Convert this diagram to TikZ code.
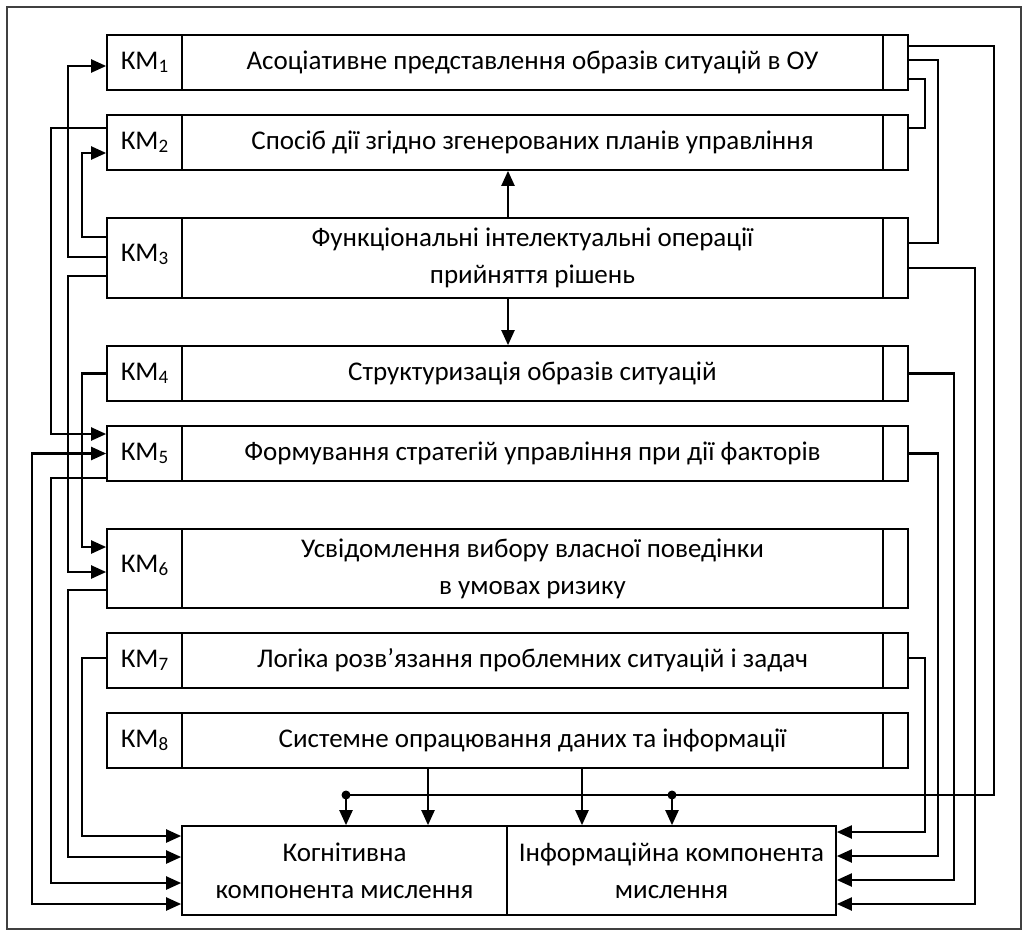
\documentclass[tikz,border=0pt]{standalone}
\usepackage{fontspec}
\setmainfont{Carlito}
\usetikzlibrary{arrows.meta, positioning}
\newcommand{\km}[1]{КМ{\fontsize{19}{19}\selectfont\raisebox{-3.5pt}{#1}}}

\begin{document}
\begin{tikzpicture}[x=1pt, y=-1pt, line width=2.2pt, >={Triangle[length=15pt, width=13pt]},
    every node/.style={font=\fontsize{27}{37}\selectfont},
    cell/.style={draw, line width=1.7pt, inner sep=0pt, align=center, minimum height=55pt},
    kmcell/.style={cell, minimum width=75pt},
    textcell/.style={cell, minimum width=701pt},
    endcell/.style={cell, minimum width=25pt},
    compbox/.style={cell, minimum height=89pt}]
        \useasboundingbox (0,0) rectangle (1027,930);
        \draw[line width=1.2pt, black!75] (7,7) rectangle (1021,929);

        % Nodes
        \node[kmcell] (k1) at (144.5, 62.5) {\km{1}};
        \node[textcell] (m1) at (532.5, 62.5) {Асоціативне представлення образів ситуацій в ОУ};
        \node[endcell] (r1) at (895.5, 62.5) {};

        \node[kmcell] (k2) at (144.5, 142.5) {\km{2}};
        \node[textcell] (m2) at (532.5, 142.5) {Спосіб дії згідно згенерованих планів управління};
        \node[endcell] (r2) at (895.5, 142.5) {};

        \node[kmcell, minimum height=80pt] (k3) at (144.5, 258) {\raisebox{11pt}{\km{3}}};
        \node[textcell, minimum height=80pt] (m3) at (532.5, 258) {Функціональні інтелектуальні операції\\прийняття рішень};
        \node[endcell, minimum height=80pt] (r3) at (895.5, 258) {};

        \node[kmcell] (k4) at (144.5, 373.5) {\km{4}};
        \node[textcell] (m4) at (532.5, 373.5) {Структуризація образів ситуацій};
        \node[endcell] (r4) at (895.5, 373.5) {};

        \node[kmcell] (k5) at (144.5, 453.5) {\km{5}};
        \node[textcell] (m5) at (532.5, 453.5) {Формування стратегій управління при дії факторів};
        \node[endcell] (r5) at (895.5, 453.5) {};

        \node[kmcell, minimum height=79pt] (k6) at (144.5, 568.5) {\raisebox{10pt}{\km{6}}};
        \node[textcell, minimum height=79pt] (m6) at (532.5, 568.5) {Усвідомлення вибору власної поведінки\\в умовах ризику};
        \node[endcell, minimum height=79pt] (r6) at (895.5, 568.5) {};

        \node[kmcell] (k7) at (144.5, 660.5) {\km{7}};
        \node[textcell] (m7) at (532.5, 660.5) {Логіка розв’язання проблемних ситуацій і задач};
        \node[endcell] (r7) at (895.5, 660.5) {};

        \node[kmcell] (k8) at (144.5, 740.5) {\km{8}};
        \node[textcell] (m8) at (532.5, 740.5) {Системне опрацювання даних та інформації};
        \node[endcell] (r8) at (895.5, 740.5) {};

        \node[compbox, minimum width=325pt] (cog) at (344.5, 870.5) {Когнітивна\\компонента мислення};
        \node[compbox, minimum width=329pt] (info) at (671.5, 870.5) {Інформаційна компонента\\мислення};

        \coordinate (bus1) at (346, 795);
        \coordinate (bus2) at (672, 795);

        % Left connectors
        \draw[->] ([yshift=1pt]k3.west) -- ++(-38,0) |- ([yshift=-3.5pt]k1.west);
        \draw[->] ([yshift=21pt]k3.west) -- ++(-24,0) |- ([yshift=-10.5pt]k2.west);
        \draw[->] ([yshift=14.5pt]k2.west) -- ++(-55,0) |- ([yshift=19.5pt]k5.west);
        \draw[->] ([yshift=-18pt]k3.west) -- ++(-38,0) |- ([yshift=-3.5pt]k6.west);
        \draw[->] (k4.west) -- ++(-24,0) |- ([yshift=21.5pt]k6.west);
        \draw[<->] (k5.west) -- ++(-74,0) |- ([yshift=-33.5pt]cog.west);
        \draw[->] ([yshift=-24.5pt]k5.west) -- ++(-55,0) |- ([yshift=-12.5pt]cog.west);
        \draw[->] ([yshift=-21.5pt]k6.west) -- ++(-38,0) |- ([yshift=13.5pt]cog.west);
        \draw[->] ([yshift=2.5pt]k7.west) -- ++(-24,0) |- ([yshift=34.5pt]cog.west);

        % Right connectors
        \draw ([yshift=16.5pt]r1.east) -- ++(85,0) |- (bus1);
        \draw ([yshift=2.5pt]r1.east) -- ++(29,0) |- ([yshift=15pt]r3.east);
        \draw ([yshift=-16.5pt]r1.east) -- ++(16,0) |- ([yshift=14.5pt]r2.east);
        \draw[->] ([yshift=-10pt]r3.east) -- ++(66,0) |- ([yshift=-33.5pt]info.east);
        \draw[->] (r4.east) -- ++(45,0) |- ([yshift=-9.5pt]info.east);
        \draw[->] (r5.east) -- ++(29,0) |- ([yshift=14.5pt]info.east);
        \draw[->] ([yshift=2.5pt]r7.east) -- ++(16,0) |- ([yshift=38.5pt]info.east);

        % Vertical arrows
        \draw[->] ([xshift=-24.5pt]m3.north) -- ([xshift=-24.5pt]m2.south);
        \draw[->] ([xshift=-24.5pt]m3.south) -- ([xshift=-24.5pt]m4.north);
        \draw[->] ([xshift=-104.5pt]m8.south) coordinate (s1) -- (s1 |- cog.north);
        \draw[->] ([xshift=49.5pt]m8.south) coordinate (s2) -- (s2 |- info.north);
        \fill (bus1) circle (4.5pt);
        \fill (bus2) circle (4.5pt);
        \draw[->] (bus1) -- (bus1 |- cog.north);
        \draw[->] (bus2) -- (bus2 |- info.north);
    \end{tikzpicture}
\end{document}
